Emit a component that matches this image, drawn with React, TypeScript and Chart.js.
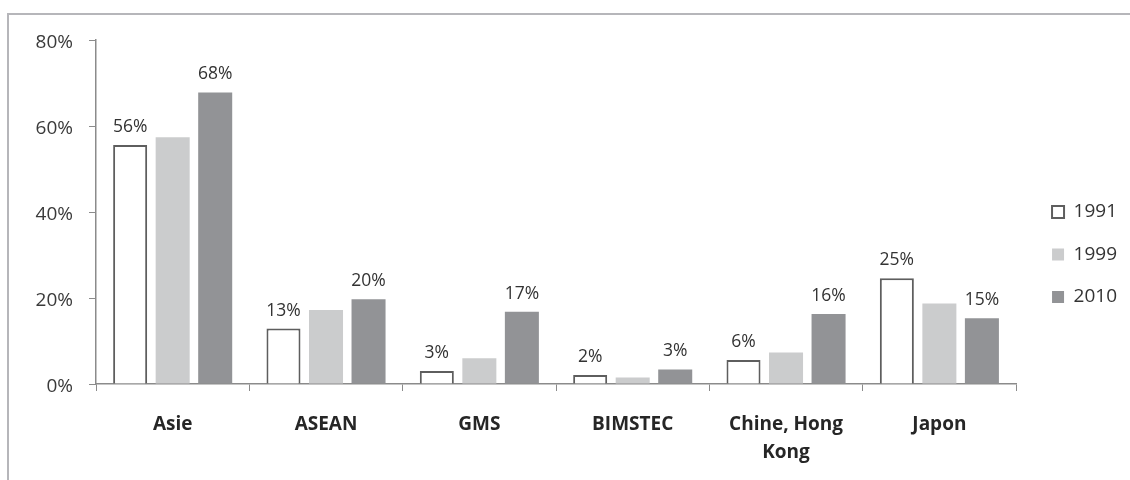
import React, { useEffect, useRef } from "react";
import { Chart, registerables } from "chart.js";

Chart.register(...registerables);

const categories: (string | string[])[] = ["Asie", "ASEAN", "GMS", "BIMSTEC", ["Chine, Hong", "Kong"], "Japon"];
const seriesNames = ["1991", "1999", "2010"];
const values1991 = [55.6, 12.9, 3.0, 2.1, 5.6, 24.6];
const values1999 = [57.4, 17.2, 6.0, 1.5, 7.3, 18.7];
const values2010 = [67.8, 19.7, 16.8, 3.4, 16.3, 15.3];
const yTicks = [0, 20, 40, 60, 80];
const labelledSeries = [0, 2];

const FONT = '"Open Sans", "DejaVu Sans", sans-serif';
const AXIS = "#8b8b8b";

const valueLabels = {
  id: "valueLabels",
  afterDatasetsDraw(chart: any) {
    const ctx = chart.ctx;
    ctx.save();
    ctx.font = `17.5px ${FONT}`;
    ctx.fillStyle = "#333333";
    ctx.textAlign = "center";
    ctx.textBaseline = "alphabetic";
    labelledSeries.forEach((idx) => {
      const meta = chart.getDatasetMeta(idx);
      meta.data.forEach((bar: any, i: number) => {
        const v = chart.data.datasets[idx].data[i] as number;
        ctx.fillText(Math.round(v) + "%", bar.x, bar.y - 13);
      });
    });
    ctx.restore();
  },
};

export default function App() {
  const ref = useRef<HTMLCanvasElement | null>(null);
  useEffect(() => {
    if (!ref.current) return;
    const chart = new Chart(ref.current, {
      type: "bar",
      data: {
        labels: categories,
        datasets: [
          {
            label: seriesNames[0],
            data: values1991,
            backgroundColor: "#ffffff",
            borderColor: "#5e5e5e",
            borderWidth: 2,
          },
          {
            label: seriesNames[1],
            data: values1999,
            backgroundColor: "#cbcccd",
            borderColor: "#cbcccd",
            borderWidth: 0,
          },
          {
            label: seriesNames[2],
            data: values2010,
            backgroundColor: "#929396",
            borderColor: "#929396",
            borderWidth: 0,
          },
        ],
      },
      options: {
        responsive: false,
        animation: false,
        categoryPercentage: 0.832,
        barPercentage: 0.8,
        layout: { padding: { top: 40, left: 0, right: 3, bottom: 11 } },
        plugins: {
          tooltip: { enabled: false },
          legend: {
            position: "right",
            align: "center",
            labels: {
              boxWidth: 12,
              boxHeight: 12,
              padding: 23.5,
              color: "#333333",
              font: { family: FONT, size: 19 },
            },
          },
        },
        scales: {
          x: {
            grid: {
              display: true,
              drawOnChartArea: false,
              drawTicks: true,
              tickLength: 7,
              color: AXIS,
              offset: true,
            },
            border: { display: true, color: AXIS, width: 1.5 },
            ticks: {
              color: "#262626",
              font: { family: FONT, size: 19, weight: "bold", lineHeight: 1.45 },
              padding: 20,
              maxRotation: 0,
              autoSkip: false,
            },
            afterFit: (s: any) => {
              s.height = 85;
            },
          },
          y: {
            min: 0,
            max: 80,
            afterBuildTicks: (s: any) => {
              s.ticks = yTicks.map((v) => ({ value: v }));
            },
            grid: {
              display: true,
              drawOnChartArea: false,
              drawTicks: true,
              tickLength: 7,
              color: AXIS,
            },
            border: { display: true, color: AXIS, width: 1.5 },
            ticks: {
              color: "#3a3a3a",
              font: { family: FONT, size: 19 },
              padding: 16,
              labelOffset: 3,
              callback: (v: any) => v + "%",
            },
            afterFit: (s: any) => {
              s.width = 96;
            },
          },
          spacer: {
            type: "linear",
            position: "right",
            display: true,
            grid: { display: false },
            border: { display: false },
            ticks: { display: false },
            afterFit: (s: any) => {
              s.width = 12.5;
            },
          },
        },
      } as any,
      plugins: [valueLabels],
    });
    return () => chart.destroy();
  }, []);

  return (
    <>
      <div
        style={{
          position: "absolute",
          left: 7,
          top: 13,
          width: 1123,
          height: 467,
          boxSizing: "border-box",
          borderTop: "2px solid #b6b6ba",
          borderLeft: "2px solid #b6b6ba",
        }}
      />
      <canvas
        ref={ref}
        width={1130}
        height={480}
        style={{ position: "absolute", left: 0, top: 0, width: 1130, height: 480 }}
      />
    </>
  );
}
